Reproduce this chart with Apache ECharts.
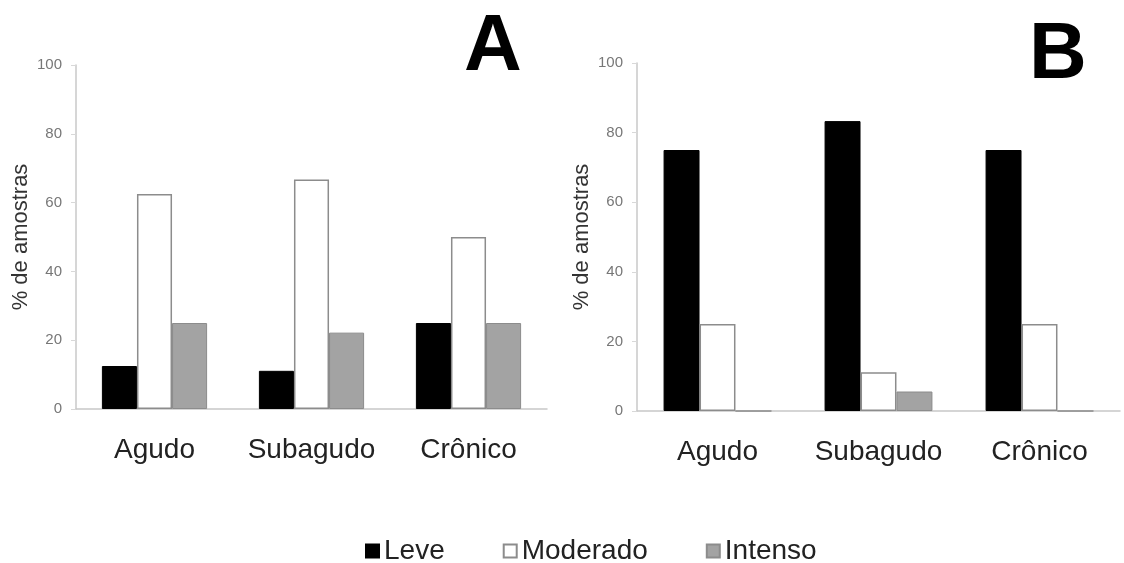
<!DOCTYPE html>
<html>
<head>
<meta charset="utf-8">
<script src="https://cdn.jsdelivr.net/npm/echarts@6/dist/echarts.min.js"></script>
<style>
  html, body { margin: 0; padding: 0; background: #fff; }
  #main { width: 1124px; height: 563px; }
</style>
</head>
<body>
<div id="main"></div>
<script>
const categories = ['Agudo', 'Subagudo', 'Crônico']
const seriesNames = ['Leve', 'Moderado', 'Intenso']
// painel A
const leveA = [12.5, 11.1, 25]
const moderadoA = [62.5, 66.7, 50]
const intensoA = [25, 22.2, 25]
// painel B
const leveB = [75, 83.3, 75]
const moderadoB = [25, 11.1, 25]
const intensoB = [0, 5.6, 0]
const yTicks = [0, 20, 40, 60, 80, 100]

const chart = echarts.init(document.getElementById('main'))

const font = 'Liberation Sans, Arial, sans-serif'
const styles = [
  { color: '#000000', borderColor: '#000000', borderWidth: 1 },
  { color: '#ffffff', borderColor: '#8c8c8c', borderWidth: 1.5 },
  { color: '#a3a3a3', borderColor: '#8c8c8c', borderWidth: 1 }
]

function xAxis(gridIndex) {
  return {
    type: 'category',
    gridIndex: gridIndex,
    data: categories,
    axisLine: { lineStyle: { color: '#c8c8c8', width: 1.5 } },
    axisTick: { show: false },
    axisLabel: { interval: 0, fontFamily: font, fontSize: 28, color: '#222', margin: 27 }
  }
}
function yAxis(gridIndex) {
  return {
    type: 'value',
    gridIndex: gridIndex,
    min: yTicks[0],
    max: yTicks[yTicks.length - 1],
    interval: 20,
    name: '% de amostras',
    nameLocation: 'middle',
    nameGap: 44,
    nameTextStyle: { fontFamily: font, fontSize: 22, color: '#333' },
    splitLine: { show: false },
    axisLine: { show: true, lineStyle: { color: '#c8c8c8', width: 1.5 } },
    axisTick: { show: true, length: 5, lineStyle: { color: '#d8d8d8' } },
    axisLabel: { fontFamily: font, fontSize: 15, color: '#777', margin: 14 }
  }
}

const panels = [[leveA, moderadoA, intensoA], [leveB, moderadoB, intensoB]]
const series = []
panels.forEach(function (panel, p) {
  panel.forEach(function (values, i) {
    series.push({
      name: seriesNames[i],
      type: 'bar',
      xAxisIndex: p,
      yAxisIndex: p,
      data: values,
      barGap: '0%',
      barCategoryGap: '33%',
      itemStyle: styles[i],
      emphasis: { disabled: true }
    })
  })
})

const option = {
  animation: false,
  grid: [
    { left: 76, right: 577, top: 65, bottom: 154 },
    { left: 637, right: 4, top: 63, bottom: 152 }
  ],
  xAxis: [xAxis(0), xAxis(1)],
  yAxis: [yAxis(0), yAxis(1)],
  legend: {
    left: 360,
    top: 532,
    itemWidth: 13,
    itemHeight: 13,
    itemGap: 58,
    icon: 'rect',
    data: seriesNames,
    textStyle: { fontFamily: font, fontSize: 28, color: '#222' }
  },
  graphic: [
    { type: 'text', left: 464, top: 8, style: { text: 'A', font: 'bold 80px Liberation Sans, Arial, sans-serif', fill: '#000' } },
    { type: 'text', left: 1029, top: 16, style: { text: 'B', font: 'bold 80px Liberation Sans, Arial, sans-serif', fill: '#000' } }
  ],
  series: series
}

chart.setOption(option)
</script>
</body>
</html>
